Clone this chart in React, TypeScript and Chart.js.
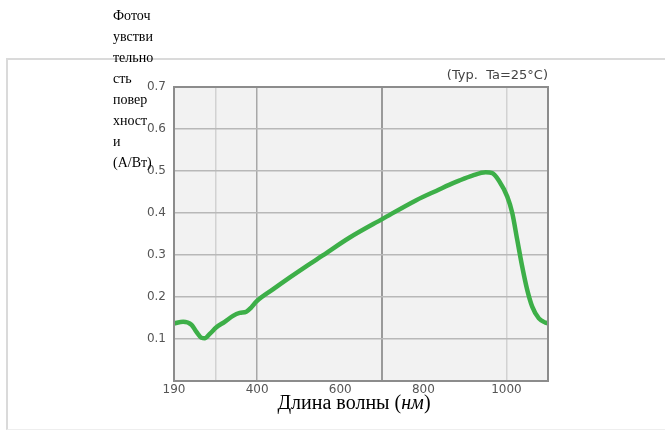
import React, { useEffect, useRef } from "react";
import { Chart, registerables } from "chart.js";

Chart.register(...registerables);

// Wavelength (nm) and photosensitivity (A/W)
const wavelengths = [200, 222, 242, 254, 266, 274, 286, 302, 322, 342, 358, 374, 386, 398, 438, 478, 518, 558, 622, 702, 782, 838, 862, 886, 918, 950, 966, 982, 1002, 1014, 1026, 1038, 1050, 1062, 1078, 1094, 1100];
const sensitivity = [0.137, 0.141, 0.134, 0.117, 0.103, 0.102, 0.112, 0.128, 0.141, 0.155, 0.162, 0.165, 0.175, 0.189, 0.218, 0.246, 0.273, 0.299, 0.341, 0.386, 0.43, 0.456, 0.467, 0.477, 0.489, 0.497, 0.495, 0.477, 0.439, 0.4, 0.336, 0.272, 0.217, 0.177, 0.149, 0.139, 0.137];

const xTickValues = [200, 400, 600, 800, 1000];
const xTickLabels = ["190", "400", "600", "800", "1000"];
const xGridValues = [300, 400, 700, 1000];
const yTickValues = [0.1, 0.2, 0.3, 0.4, 0.5, 0.6, 0.7];

const titleText = "(Typ.  Ta=25°C)";
const yTitleLines = ["Фоточ", "увстви", "тельно", "сть", "повер", "хност", "и", "(А/Вт)"];

export default function App() {
  const canvasRef = useRef<HTMLCanvasElement | null>(null);

  useEffect(() => {
    if (!canvasRef.current) return;
    const plotDecor = {
      id: "plotDecor",
      beforeDraw(chart: any) {
        const { ctx, chartArea: a } = chart;
        ctx.save();
        ctx.fillStyle = "#f2f2f2";
        ctx.fillRect(a.left, a.top, a.right - a.left, a.bottom - a.top);
        ctx.restore();
      },
      afterDatasetsDraw(chart: any) {
        const { ctx, chartArea: a } = chart;
        ctx.save();
        ctx.strokeStyle = "#8c8c8c";
        ctx.lineWidth = 2;
        ctx.strokeRect(a.left, a.top, a.right - a.left, a.bottom - a.top);
        ctx.restore();
      },
    };

    const allXTicks = Array.from(new Set([...xTickValues, ...xGridValues, 1100])).sort((a, b) => a - b);

    const chart = new Chart(canvasRef.current, {
      type: "line",
      data: {
        datasets: [
          {
            data: wavelengths.map((w, i) => ({ x: w, y: sensitivity[i] })),
            borderColor: "#3daf48",
            borderWidth: 4.5,
            pointRadius: 0,
            fill: false,
            cubicInterpolationMode: "monotone",
          },
        ],
      },
      options: {
        animation: false,
        responsive: false,
        devicePixelRatio: 1,
        layout: { padding: { left: 0, right: 117, top: 87, bottom: 0 } },
        plugins: { legend: { display: false }, tooltip: { enabled: false }, title: { display: false } },
        scales: {
          x: {
            type: "linear",
            min: 200,
            max: 1100,
            afterBuildTicks: (scale: any) => {
              scale.ticks = allXTicks.map((v) => ({ value: v }));
            },
            afterFit: (scale: any) => {
              scale.height = 49;
            },
            ticks: {
              autoSkip: false,
              maxRotation: 0,
              padding: 2,
              color: "#555",
              font: { family: "DejaVu Sans", size: 12 },
              callback: (v: any) => {
                const i = xTickValues.indexOf(Number(v));
                return i >= 0 ? xTickLabels[i] : "";
              },
            },
            grid: {
              drawTicks: false,
              color: (c: any) => {
                const v = c.tick ? c.tick.value : null;
                if (v === 300 || v === 1000) return "#d2d2d2";
                if (v === 400) return "#a8a8a8";
                if (v === 700) return "#9a9a9a";
                return "rgba(0,0,0,0)";
              },
              lineWidth: (c: any) => (c.tick && c.tick.value === 700 ? 2 : 1.5),
            },
            border: { display: false },
          },
          y: {
            min: 0,
            max: 0.7,
            afterBuildTicks: (scale: any) => {
              scale.ticks = [0, ...yTickValues].map((v) => ({ value: v }));
            },
            afterFit: (scale: any) => {
              scale.width = 174;
            },
            ticks: {
              padding: 8,
              color: "#555",
              font: { family: "DejaVu Sans", size: 12 },
              callback: (v: any) => (Number(v) === 0 ? "" : Number(v).toFixed(1)),
            },
            grid: { drawTicks: false, color: "#b8b8b8", lineWidth: 1.5 },
            border: { display: false },
          },
        },
      },
      plugins: [plotDecor],
    } as any);
    return () => chart.destroy();
  }, []);

  return (
    <div style={{ position: "fixed", left: 0, top: 0, width: 665, height: 430, background: "#fff", overflow: "hidden" }}>
      <div style={{ position: "absolute", left: 6, top: 58, width: 680, height: 369, borderTop: "2px solid #dadada", borderLeft: "2px solid #dadada", borderBottom: "1px solid #eeeeee" }} />
      <canvas ref={canvasRef} width={665} height={430} style={{ position: "absolute", left: 0, top: 0 }} />
      <div style={{ position: "absolute", right: 117, top: 67, font: "13px 'DejaVu Sans'", color: "#444", whiteSpace: "pre" }}>{titleText}</div>
      <div style={{ position: "absolute", left: 113, top: 5, font: "14px 'Liberation Serif'", lineHeight: "21px", color: "#000" }}>
        {yTitleLines.map((l, i) => (
          <div key={i}>{l}</div>
        ))}
      </div>
      <div style={{ position: "absolute", left: 254, width: 200, top: 391, textAlign: "center", font: "20px 'Liberation Serif'", lineHeight: "23px", color: "#000", whiteSpace: "nowrap" }}>
        Длина волны (<i>нм</i>)
      </div>
    </div>
  );
}
